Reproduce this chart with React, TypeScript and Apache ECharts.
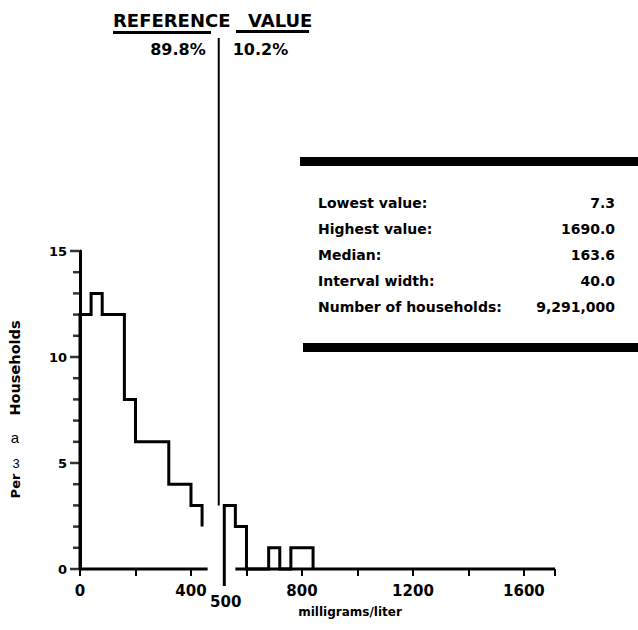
import React, { useEffect, useRef } from 'react';
import * as echarts from 'echarts';

// ---- data ----
const binWidth = 40;
const leftBinStarts = [0, 40, 80, 120, 160, 200, 240, 280, 320, 360, 400];
const leftCounts = [12, 13, 12, 12, 8, 6, 6, 6, 4, 4, 3];
const leftTailLevel = 2; // last visible step before the axis break
const rightBinStarts = [520, 560, 680, 760, 800];
const rightCounts = [3, 2, 1, 1, 1];
const breakMarkDepth = -0.8; // break mark drawn below the axis
const axisSegments: [number, number][] = [[0, 460], [560, 1712]];
const xLabelValues = [0, 400, 800, 1200, 1600];
const yMajorTicks = [0, 5, 10, 15];
const yMinorTicks = [1, 2, 3, 4, 6, 7, 8, 9, 11, 12, 13, 14];
const refValue = 500;
const refShares = ['89.8%', '10.2%'];
const statLabels = ['Lowest value:', 'Highest value:', 'Median:', 'Interval width:', 'Number of households:'];
const statValues = ['7.3', '1690.0', '163.6', '40.0', '9,291,000'];

const FONT = '"DejaVu Sans", "Liberation Sans", sans-serif';

function leftOutline(): number[][] {
  const pts: number[][] = [[0, 0]];
  leftBinStarts.forEach((s, i) => {
    pts.push([s, leftCounts[i]]);
    pts.push([s + binWidth, leftCounts[i]]);
  });
  const end = leftBinStarts[leftBinStarts.length - 1] + binWidth;
  pts.push([end, leftTailLevel]);
  return pts;
}

function rightOutline(): number[][] {
  const pts: number[][] = [[rightBinStarts[0], breakMarkDepth]];
  let prevEnd: number | null = null;
  rightBinStarts.forEach((s, i) => {
    if (prevEnd !== null && prevEnd !== s) {
      pts.push([prevEnd, 0]);
      pts.push([s, 0]);
    }
    pts.push([s, rightCounts[i]]);
    pts.push([s + binWidth, rightCounts[i]]);
    prevEnd = s + binWidth;
  });
  pts.push([prevEnd as number, 0]);
  return pts;
}

export default function App() {
  const ref = useRef<HTMLDivElement>(null);
  useEffect(() => {
    if (!ref.current) return;
    const chart = echarts.init(ref.current, null, { renderer: 'svg' });
    const black = '#000';
    const lineSeries = (data: number[][], width: number) => ({
      type: 'line',
      data,
      symbol: 'none',
      clip: false,
      silent: true,
      lineStyle: { color: black, width, join: 'miter', cap: 'butt' },
    });
    const tickSeries = (values: number[], len: number) => ({
      type: 'scatter',
      data: values.map((v) => [0, v]),
      symbol: 'rect',
      symbolSize: [len, 2.5],
      symbolOffset: [-len / 2 - 1, 0],
      clip: false,
      silent: true,
      itemStyle: { color: black },
    });
    chart.setOption({
      animation: false,
      grid: { left: 80, top: 251, width: 475, height: 318 },
      xAxis: {
        type: 'value',
        min: 0,
        max: 1712,
        interval: 200,
        axisLine: { show: false },
        axisTick: { show: true, length: 7, lineStyle: { color: black, width: 2 } },
        splitLine: { show: false },
        axisLabel: {
          margin: 14,
          color: black,
          fontFamily: FONT,
          fontWeight: 'bold',
          fontSize: 15,
          formatter: (v: number) => (xLabelValues.includes(v) ? String(v) : ''),
        },
      },
      yAxis: {
        type: 'value',
        min: 0,
        max: 15,
        interval: 5,
        axisLine: { show: true, lineStyle: { color: black, width: 3 } },
        axisTick: { show: false },
        splitLine: { show: false },
        axisLabel: { margin: 13, color: black, fontFamily: FONT, fontWeight: 'bold', fontSize: 13 },
      },
      series: [
        ...axisSegments.map((seg) => lineSeries([[seg[0], 0], [seg[1], 0]], 3)),
        lineSeries(leftOutline(), 3),
        lineSeries(rightOutline(), 3),
        tickSeries(yMajorTicks, 9),
        tickSeries(yMinorTicks, 6),
      ],
    });

    const refX = chart.convertToPixel({ xAxisIndex: 0 }, refValue) as number;
    const refBottom = chart.convertToPixel({ yAxisIndex: 0 }, rightCounts[0]) as number;
    const txt = (text: string, x: number, y: number, size: number, align: string, extra: any = {}) => ({
      type: 'text',
      x,
      y,
      silent: true,
      ...extra,
      style: {
        text,
        fill: black,
        fontFamily: FONT,
        fontWeight: 'bold',
        fontSize: size,
        textAlign: align,
        textVerticalAlign: 'middle',
        ...(extra.style || {}),
      },
    });
    const graphics: any[] = [
      // title
      txt('REFERENCE', 113, 20, 18, 'left'),
      txt('VALUE', 248, 20, 18, 'left'),
      { type: 'rect', shape: { x: 113, y: 31, width: 98, height: 3 }, style: { fill: black } },
      { type: 'rect', shape: { x: 236, y: 30, width: 73, height: 3 }, style: { fill: black } },
      txt(refShares[0], refX - 13, 49, 16, 'right'),
      txt(refShares[1], refX + 14, 49, 16, 'left'),
      {
        type: 'line',
        shape: { x1: refX, y1: 38, x2: refX, y2: refBottom },
        style: { stroke: black, lineWidth: 2 },
      },
      txt(String(refValue), refX + 7, 602, 15, 'center'),
      // stats box
      { type: 'rect', shape: { x: 300, y: 157, width: 338, height: 9 }, style: { fill: black } },
      { type: 'rect', shape: { x: 303, y: 343, width: 335, height: 9 }, style: { fill: black } },
      ...statLabels.map((s, i) => txt(s, 318, 203 + i * 26, 14, 'left')),
      ...statValues.map((s, i) => txt(s, 615, 203 + i * 26, 14, 'right')),
      // axis titles
      txt('milligrams/liter', 350, 612, 12, 'center'),
      txt('Households', 15, 368, 14.5, 'center', { rotation: Math.PI / 2 }),
      txt('a', 15, 437, 15, 'center', { style: { fontWeight: 'normal', fontFamily: '"Liberation Sans", Arial, sans-serif' } }),
      txt('3', 16, 463, 13, 'center', { style: { fontWeight: 'normal', fontFamily: '"Liberation Sans", Arial, sans-serif' } }),
      txt('Per', 15, 486, 13, 'center', { rotation: Math.PI / 2 }),
    ];
    chart.setOption({ graphic: graphics });
    return () => chart.dispose();
  }, []);
  return (
    <div
      ref={ref}
      style={{ position: 'fixed', left: 0, top: 0, width: 638, height: 630, background: '#fff' }}
    />
  );
}
